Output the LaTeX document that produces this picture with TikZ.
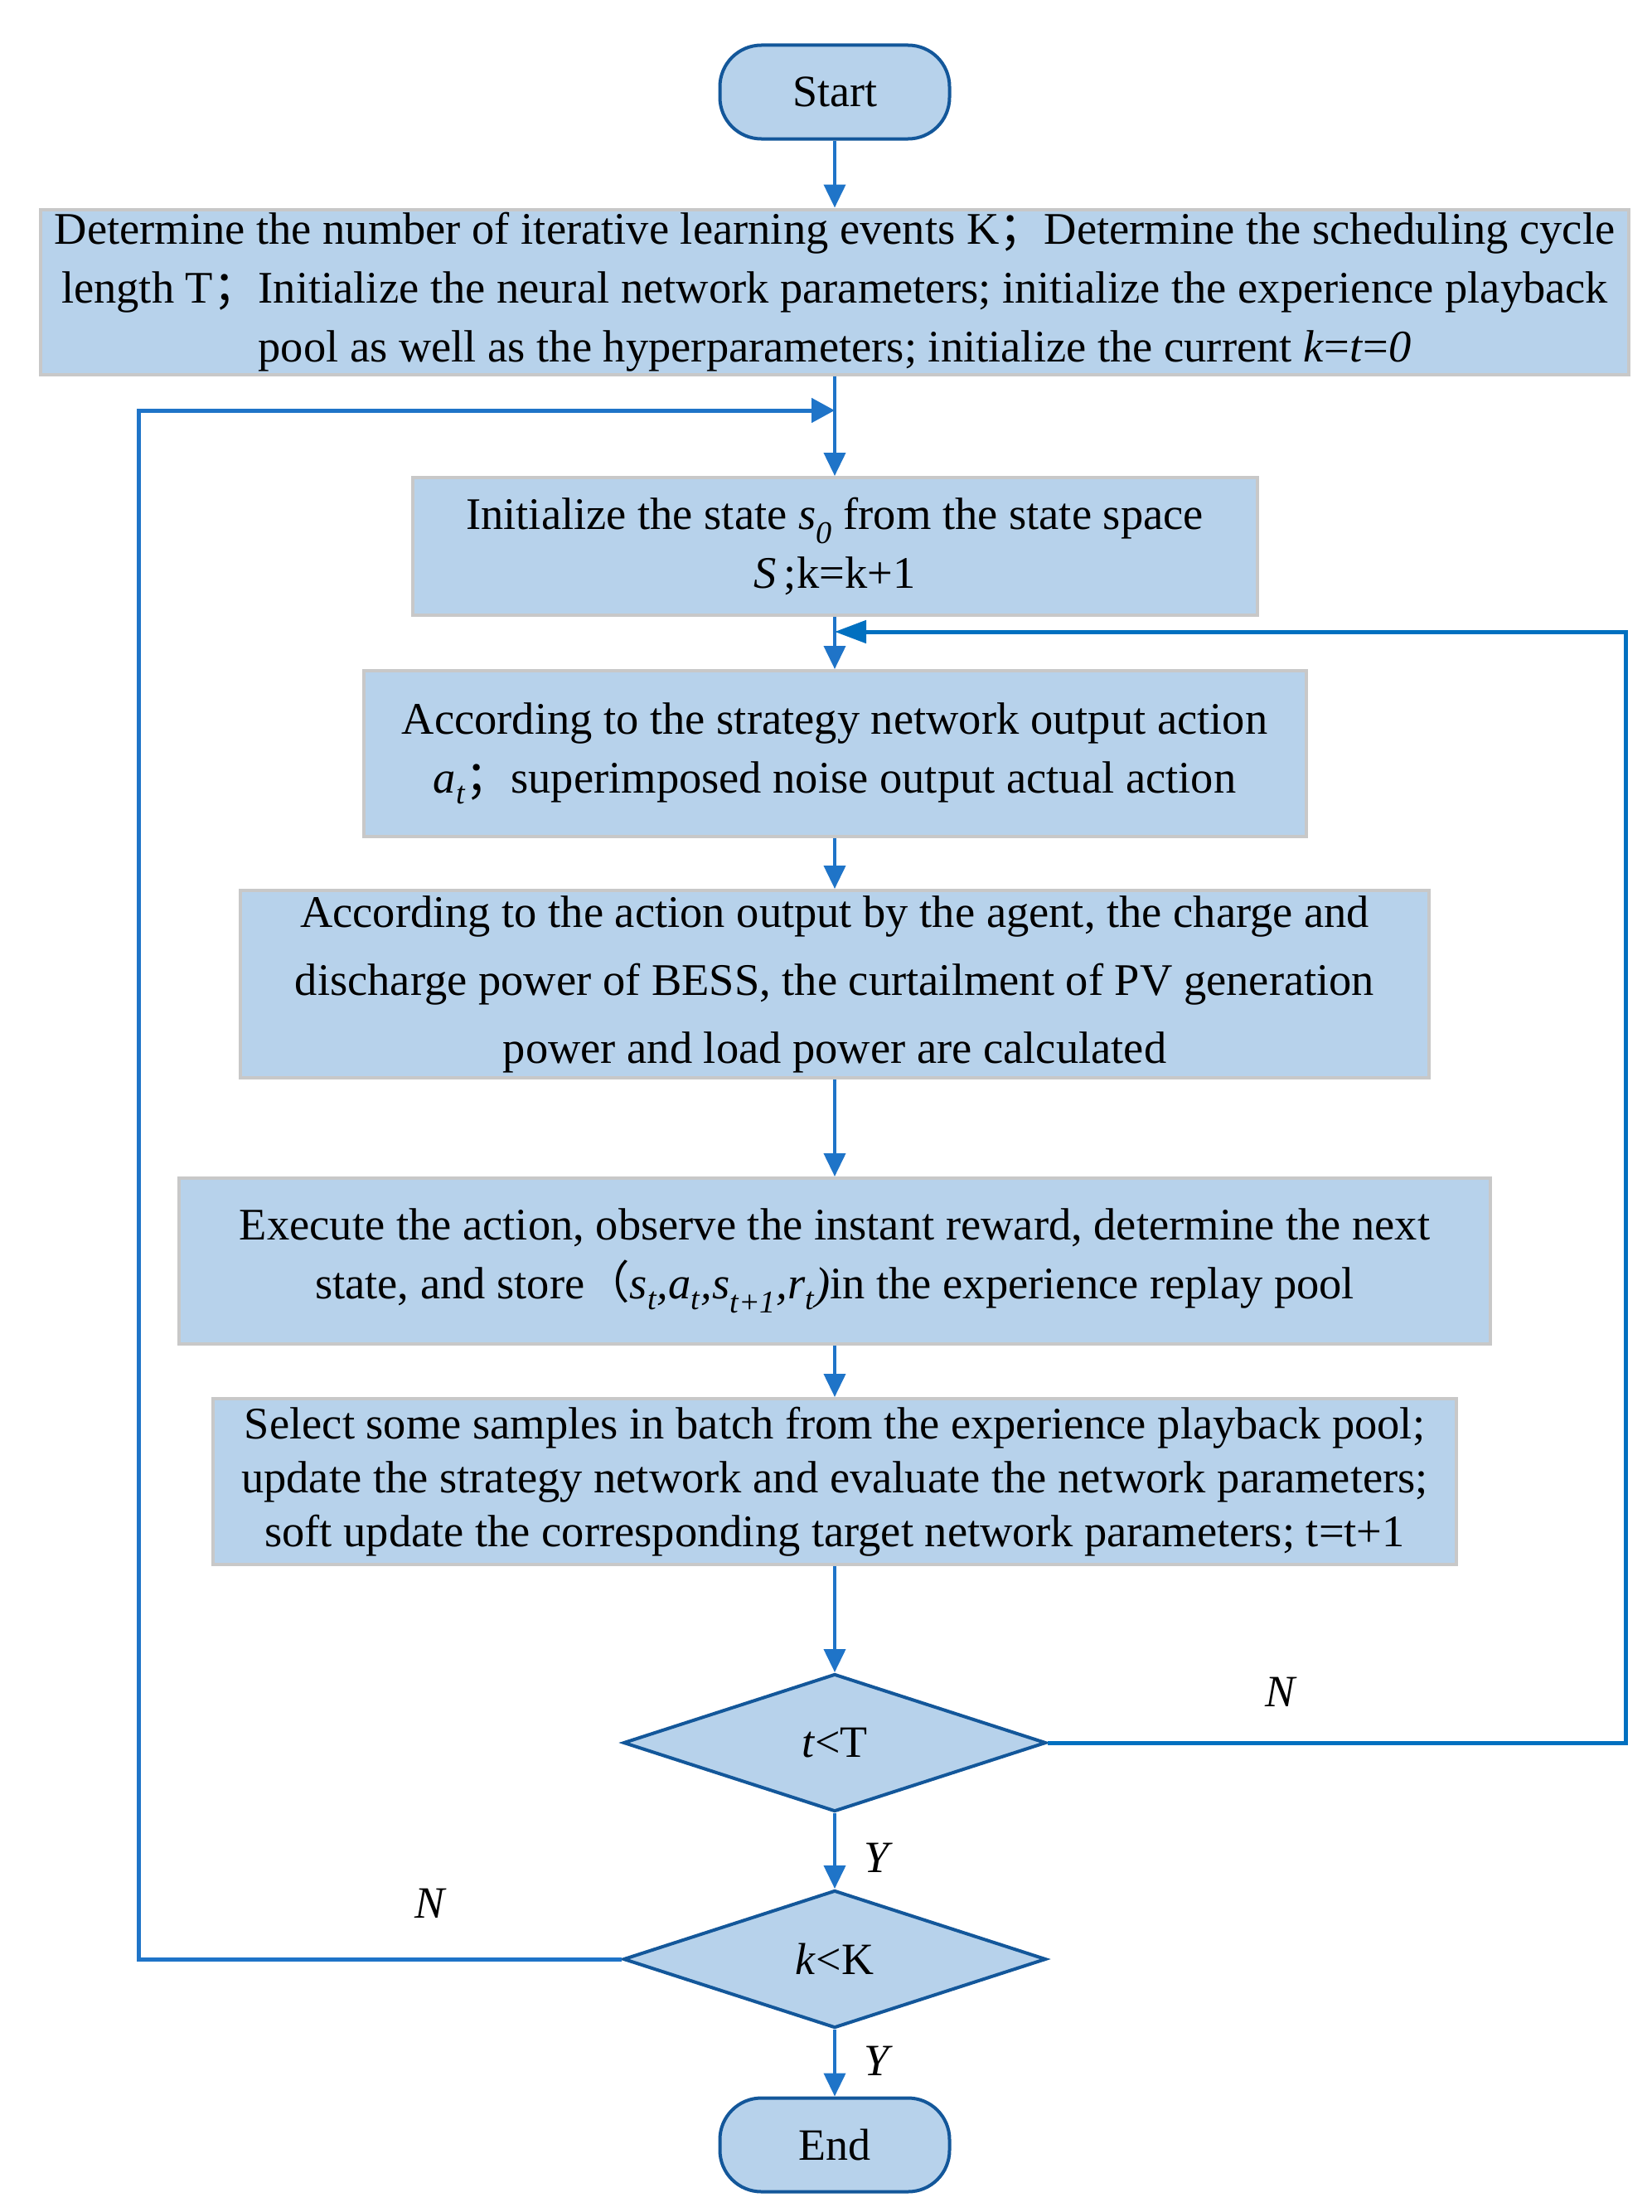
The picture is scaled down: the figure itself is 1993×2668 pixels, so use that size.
\documentclass[tikz,border=0pt]{standalone}
\usepackage{fontspec}
\setmainfont{Liberation Serif}
\newfontfamily\cjkf{Noto Sans CJK SC}
\usetikzlibrary{shapes.geometric,arrows.meta}
\definecolor{boxfill}{HTML}{B7D2EB}
\definecolor{boxline}{HTML}{C8C8C8}
\definecolor{arrowc}{HTML}{1F74C8}
\definecolor{loopc}{HTML}{0070C0}
\definecolor{darkline}{HTML}{13579A}
\tikzset{
  procbox/.style={draw=boxline, line width=4pt, fill=boxfill, inner sep=0pt, align=center,
    font=\fontsize{54.5}{71}\selectfont},
  terminal/.style={draw=darkline, line width=4pt, fill=boxfill, rounded corners=50pt,
    minimum width=277pt, minimum height=113pt, inner sep=0pt, font=\fontsize{54}{70}\selectfont},
  decision/.style={diamond, draw=darkline, line width=4pt, fill=boxfill, aspect=3.07,
    minimum width=510pt, minimum height=166pt, inner sep=0pt, font=\fontsize{54}{70}\selectfont},
  flow/.style={draw=arrowc, line width=4pt, -{Triangle[length=28pt,width=26pt]}},
  backleft/.style={draw=arrowc, line width=5pt, -{Triangle[length=28pt,width=29pt]}},
  backright/.style={draw=loopc, line width=5pt, -{Triangle[length=38pt,width=27pt]}},
  lbl/.style={font=\fontsize{54}{60}\selectfont\itshape, inner sep=0pt}
}
\begin{document}
\begin{tikzpicture}[x=1pt,y=-1pt]
\useasboundingbox (0,0) rectangle (1993,2668);

\node[terminal] (start) at (1007,111) {Start};

\node[procbox, minimum width=1916pt, minimum height=199pt] (b1) at (1007,352)
 {Determine the number of iterative learning events K{\cjkf ；}Determine the scheduling cycle\\
  length T{\cjkf ；}Initialize the neural network parameters; initialize the experience playback\\
  pool as well as the hyperparameters; initialize the current \textit{k}=\textit{t}=\textit{0}};

\node[procbox, minimum width=1019pt, minimum height=166pt] (b2) at (1007,659)
 {Initialize the state \textit{s}\textsubscript{\textit{0}}\ from the state space\\
  \textit{S}\,;k=k+1};

\node[procbox, minimum width=1137pt, minimum height=200pt] (b3) at (1007,909)
 {According to the strategy network output action\\
  \textit{a}\textsubscript{\textit{t}}{\cjkf ；}superimposed noise output actual action};

\node[procbox, minimum width=1434pt, minimum height=226pt, font=\fontsize{54.5}{82}\selectfont] (b4) at (1007,1187)
 {According to the action output by the agent, the charge and\\
  discharge power of BESS, the curtailment of PV generation\\
  power and load power are calculated};

\node[procbox, minimum width=1582pt, minimum height=200pt] (b5) at (1007,1521)
 {Execute the action, observe the instant reward, determine the next\\
  state, and store{\cjkf （}\textit{s}\textsubscript{\textit{t}}\textit{,}\textit{a}\textsubscript{\textit{t}}\textit{,}\textit{s}\textsubscript{\textit{t+1}}\textit{,}\textit{r}\textsubscript{\textit{t}}\textit{)}in the experience replay pool};

\node[procbox, minimum width=1500pt, minimum height=200pt, font=\fontsize{54.5}{65}\selectfont] (b6) at (1007,1787)
 {Select some samples in batch from the experience playback pool;\\
  update the strategy network and evaluate the network parameters;\\
  soft update the corresponding target network parameters; t=t+1};

\node[decision] (d1) at (1007,2102) {\textit{t}<T};
\node[decision] (d2) at (1007,2363) {\textit{k}<K};

\node[terminal] (stop) at (1007,2587) {End};

% join points and loop corners
\coordinate (lj) at (1007,495);
\coordinate (rj) at (1007,762);
\coordinate (lc1) at (167,2363);
\coordinate (lc2) at (167,495);
\coordinate (rc1) at (1961,2102);
\coordinate (rc2) at (1961,762);

\draw[flow] (start.south) -- (b1.north);
\draw[flow] (b1.south) -- (b2.north);
\draw[flow] (b2.south) -- (b3.north);
\draw[flow] (b3.south) -- (b4.north);
\draw[flow] (b4.south) -- (b5.north);
\draw[flow] (b5.south) -- (b6.north);
\draw[flow] (b6.south) -- (d1.north);
\draw[flow] (d1.south) -- (d2.north);
\draw[flow] (d2.south) -- (stop.north);

\draw[backleft] (d2.west) -- (lc1) -- (lc2) -- (lj);
\draw[backright] (d1.east) -- (rc1) -- (rc2) -- (rj);

\node[lbl] (n1) at (1544,2041) {N};
\node[lbl] (n2) at (519,2296) {N};
\node[lbl] (y1) at (1058,2241) {Y};
\node[lbl] (y2) at (1058,2486) {Y};
\end{tikzpicture}
\end{document}
